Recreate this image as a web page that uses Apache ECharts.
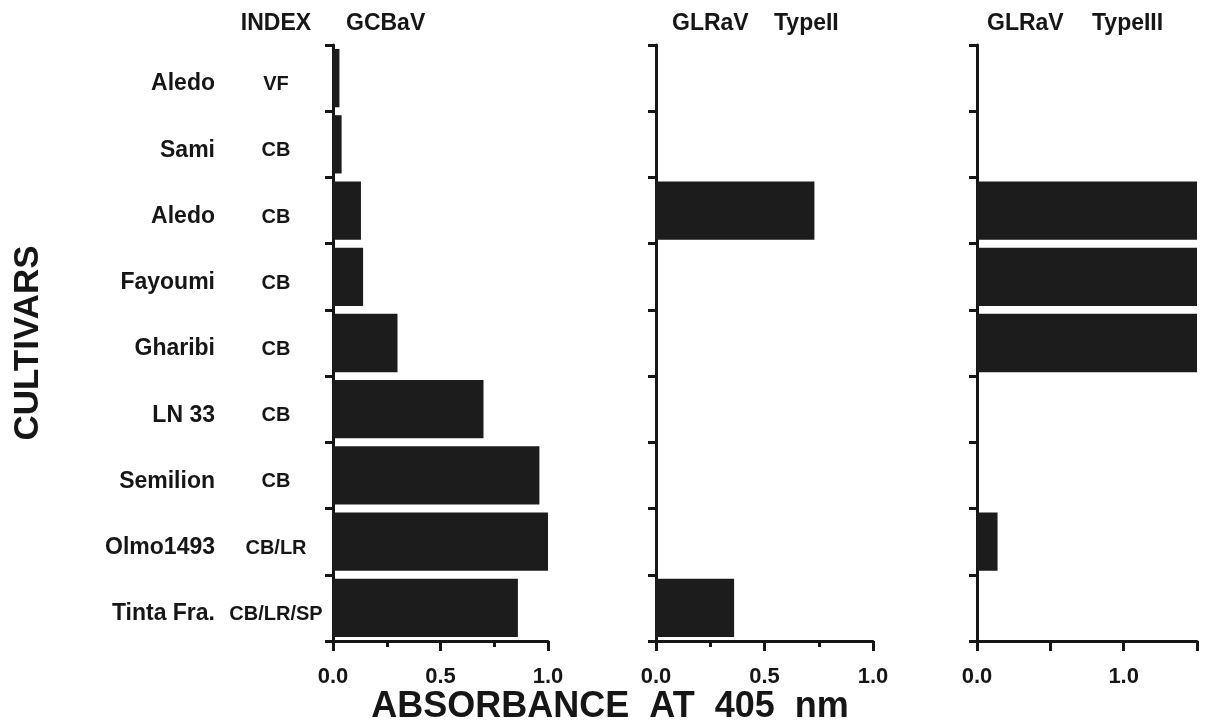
<!DOCTYPE html>
<html>
<head>
<meta charset="utf-8">
<script src="https://cdn.jsdelivr.net/npm/echarts@6/dist/echarts.min.js"></script>
<style>
  html, body { margin: 0; padding: 0; background: #fff; }
  #main { width: 1205px; height: 726px; }
</style>
</head>
<body>
<div id="main"></div>
<script>
// cultivars, top to bottom
var cultivars = ['Aledo', 'Sami', 'Aledo', 'Fayoumi', 'Gharibi', 'LN 33', 'Semilion', 'Olmo1493', 'Tinta Fra.'];
var indexCodes = ['VF', 'CB', 'CB', 'CB', 'CB', 'CB', 'CB', 'CB/LR', 'CB/LR/SP'];

// absorbance at 405 nm
var gcbav   = [0.03, 0.04, 0.13, 0.14, 0.30, 0.70, 0.96, 1.00, 0.86];
var glrav2  = [0, 0, 0.73, 0, 0, 0, 0, 0, 0.36];
var glrav3  = [0, 0, 1.5, 1.5, 1.5, 0, 0, 0.14, 0];

var cats = cultivars.map(function (c, i) { return c + ' ' + indexCodes[i]; });

var FONT = '"Liberation Sans", Arial, Helvetica, sans-serif';
var INK = '#161616';

var chart = echarts.init(document.getElementById('main'));

function xAxisFor(gi, max, showLabel) {
  return {
    type: 'value', gridIndex: gi, min: 0, max: max, interval: 0.5,
    axisLine: { show: true, lineStyle: { color: INK, width: 3 } },
    axisTick: { show: true, length: 10, lineStyle: { color: INK, width: 3 } },
    minorTick: { show: max === 1, splitNumber: 2, length: 6, lineStyle: { color: INK, width: 3 } },
    splitLine: { show: false },
    axisLabel: {
      margin: 25, color: INK, fontFamily: FONT, fontWeight: 'bold', fontSize: 22,
      formatter: function (v) { return showLabel(v) ? v.toFixed(1) : ''; }
    }
  };
}

function yAxisFor(gi) {
  return {
    type: 'category', gridIndex: gi, data: cats, inverse: true,
    axisLine: { show: true, lineStyle: { color: INK, width: 3 } },
    axisTick: { show: true, length: 8, lineStyle: { color: INK, width: 3 } },
    axisLabel: { show: false }
  };
}

// labels sit a few px below the band centre in the original
var nameAxis = yAxisFor(0);
nameAxis.axisLabel = {
  show: true, margin: 118, align: 'right', verticalAlign: 'top', lineHeight: 12,
  fontFamily: FONT, fontWeight: 'bold', fontSize: 23, color: INK,
  formatter: function (v, i) { return cultivars[i]; }
};

var codeAxis = {
  type: 'category', gridIndex: 0, data: cats, inverse: true, position: 'left',
  axisLine: { show: false }, axisTick: { show: false },
  axisLabel: {
    show: true, margin: 57, align: 'center', verticalAlign: 'top', lineHeight: 13,
    fontFamily: FONT, fontWeight: 'bold', fontSize: 20, color: INK,
    formatter: function (v, i) { return indexCodes[i]; }
  }
};

function barSeries(gi, data) {
  return {
    type: 'bar', xAxisIndex: gi, yAxisIndex: gi, data: data,
    barCategoryGap: '12%', clip: true,
    itemStyle: { color: '#1c1c1c' }
  };
}

function headText(txt, x, y, align) {
  return {
    type: 'text', x: x, y: y,
    style: { text: txt, font: 'bold 23px ' + FONT, fill: INK, textAlign: align || 'center', textVerticalAlign: 'middle' }
  };
}

var option = {
  backgroundColor: '#fff',
  animation: false,
  grid: [
    { left: 333, top: 45, width: 215, height: 596 },
    { left: 656, top: 45, width: 217, height: 596 },
    { left: 977, top: 45, width: 220, height: 596 }
  ],
  xAxis: [
    xAxisFor(0, 1, function () { return true; }),
    xAxisFor(1, 1, function () { return true; }),
    xAxisFor(2, 1.5, function (v) { return v === 0 || v === 1; })
  ],
  yAxis: [nameAxis, yAxisFor(1), yAxisFor(2), codeAxis],
  series: [barSeries(0, gcbav), barSeries(1, glrav2), barSeries(2, glrav3)],
  graphic: [
    headText('INDEX', 276, 24),
    headText('GCBaV', 346, 24, 'left'),
    headText('GLRaV', 672, 24, 'left'),
    headText('TypeII', 774, 24, 'left'),
    headText('GLRaV', 987, 24, 'left'),
    headText('TypeIII', 1092, 24, 'left'),
    {
      type: 'text', x: 610, y: 707,
      style: { text: 'ABSORBANCE  AT  405  nm', font: 'bold 36px ' + FONT, fill: INK, textAlign: 'center', textVerticalAlign: 'middle' }
    },
    {
      type: 'text', x: 28, y: 343, rotation: Math.PI / 2,
      style: { text: 'CULTIVARS', font: 'bold 35px ' + FONT, fill: INK, textAlign: 'center', textVerticalAlign: 'middle' }
    }
  ]
};

chart.setOption(option);
</script>
</body>
</html>
